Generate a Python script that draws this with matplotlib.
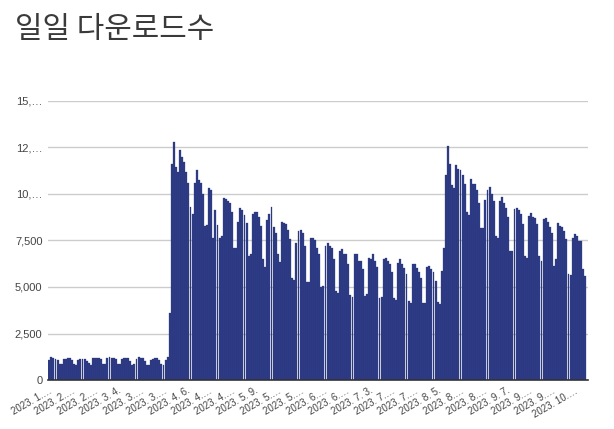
import matplotlib
matplotlib.use("Agg")
import matplotlib.pyplot as plt

# daily downloads, one value per day starting 2023-01-30 (Mon)
downloads = [
    1080, 1240, 1200, 1130, 1080, 860, 860,
    1130, 1130, 1190, 1190, 1060, 860, 810,
    1060, 1130, 1130, 1130, 1030, 920, 810,
    1190, 1190, 1190, 1190, 1120, 860, 860,
    1190, 1240, 1190, 1190, 1130, 860, 860,
    1130, 1190, 1190, 1190, 1030, 810, 860,
    1130, 1240, 1190, 1190, 1030, 810, 810,
    1080, 1130, 1190, 1190, 1080, 860, 810,
    1080, 1240, 3620, 11600, 12790, 11440, 11170,
    12360, 11980, 11710, 11170, 10580, 9280, 8900,
    10580, 11280, 10740, 10580, 10020, 8260, 8310,
    10310, 10200, 7660, 9120, 8310, 7610, 7720,
    9770, 9710, 9600, 9500, 9010, 7070, 7120,
    8470, 9230, 9120, 8850, 8420, 6640, 6750,
    8900, 9010, 9010, 8740, 8260, 6480, 6100,
    8580, 8900, 9280, 8200, 7880, 6750, 6370,
    8470, 8420, 8370, 8040, 7560, 5500, 5400,
    7340, 7990, 8040, 7880, 7180, 5290, 5290,
    7660, 7610, 7500, 7120, 6750, 5020, 5070,
    7230, 7340, 7230, 7070, 6480, 4800, 4700,
    6960, 7020, 6800, 6750, 6210, 4590, 4480,
    6800, 6800, 6420, 6420, 5990, 4530, 4640,
    6580, 6480, 6800, 6420, 6100, 4430, 4480,
    6530, 6580, 6420, 6210, 5830, 4430, 4320,
    6310, 6480, 6210, 6040, 5720, 4260, 4150,
    6210, 6260, 6040, 5830, 5500, 4150, 4150,
    6100, 6150, 5990, 5830, 5340, 4210, 4100,
    5880, 7120, 11010, 12580, 11600, 10470, 10310,
    11550, 11330, 11280, 11010, 10520, 9010, 8850,
    10790, 10520, 10520, 10200, 9500, 8150, 8150,
    9660, 10200, 10360, 9980, 9600, 7720, 7660,
    9600, 9820, 9500, 9230, 8740, 6960, 6960,
    9170, 9230, 9120, 8900, 8370, 6640, 6580,
    8800, 8960, 8740, 8690, 8370, 6640, 6420,
    8630, 8690, 8470, 8200, 7880, 6150, 6480,
    8420, 8260, 8200, 7990, 7560, 5720, 5670,
    7660, 7830, 7720, 7450, 7450, 5990, 5610,
]

# every 11th day gets a label (truncated like the original)
tick_labels = [
    "2023. 1.…", "2023. 2.…", "2023. 2.…", "2023. 3. 4.", "2023. 3.…", "2023. 3.…",
    "2023. 4. 6.", "2023. 4.…", "2023. 4.…", "2023. 5. 9.", "2023. 5.…", "2023. 5.…",
    "2023. 6.…", "2023. 6.…", "2023. 7. 3.", "2023. 7.…", "2023. 7.…", "2023. 8. 5.",
    "2023. 8.…", "2023. 8.…", "2023. 9. 7.", "2023. 9.…", "2023. 9.…", "2023. 10.…",
]
tick_step = 11

y_ticks = [0, 2500, 5000, 7500, 10000, 12500, 15000]
y_labels = ["0", "2,500", "5,000", "7,500", "10,…", "12,…", "15,…"]

title = "일일 다운로드수"


def main():
    n = len(downloads)
    fig = plt.figure(figsize=(6.14, 4.29), dpi=100)
    ax = fig.add_axes([48 / 614, 49 / 429, 540 / 614, 279 / 429])

    ax.bar(range(n), downloads, width=0.92, color="#2f3c88",
           edgecolor="#27326f", linewidth=0.2, zorder=2)

    ax.set_xlim(-0.6, n + 0.4)
    ax.set_ylim(0, 15000)

    ax.set_yticks(y_ticks)
    ax.set_yticklabels(y_labels, fontsize=8, color="#444444",
                       family="Liberation Sans")
    ax.grid(axis="y", color="#cccccc", linewidth=1, zorder=0)
    ax.set_axisbelow(True)

    ax.set_xticks(list(range(0, n, tick_step)))
    ax.set_xticklabels(tick_labels, rotation=30, ha="right",
                       rotation_mode="anchor", fontsize=7,
                       color="#444444", family="Liberation Sans")

    for side in ("top", "right", "left"):
        ax.spines[side].set_visible(False)
    ax.spines["bottom"].set_color("#333333")
    ax.spines["bottom"].set_linewidth(1.2)
    ax.spines["bottom"].set_zorder(3)
    ax.tick_params(length=0, pad=4)

    fig.text(15 / 614, 1 - 30 / 429, title, fontsize=21.5, color="#3a3a3a",
             family=["Noto Sans CJK KR", "DejaVu Sans"], va="center", ha="left")

    fig.savefig("out.png", dpi=100)


if __name__ == "__main__":
    main()
